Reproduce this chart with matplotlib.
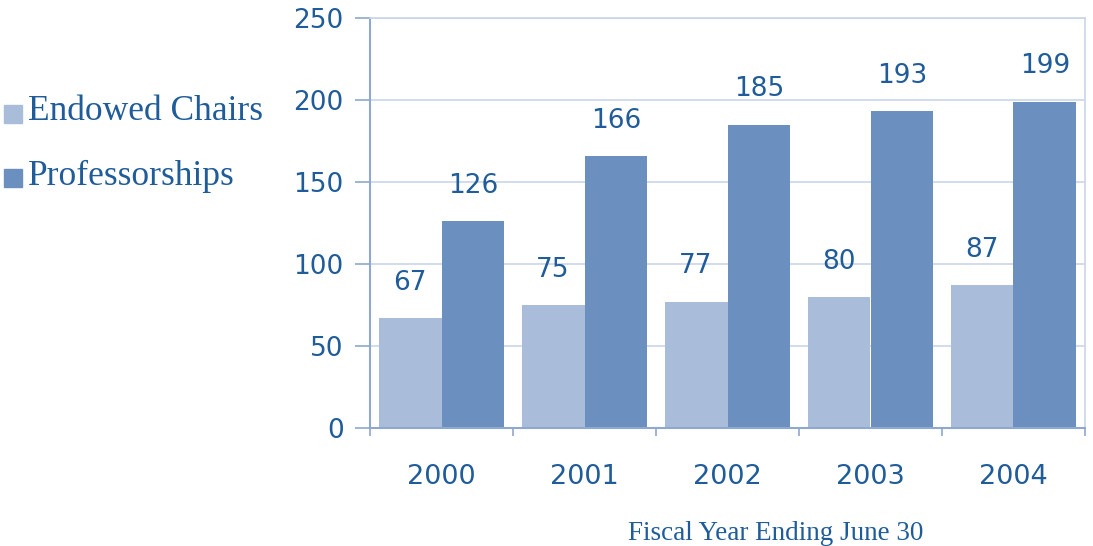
import matplotlib
matplotlib.use("Agg")
import matplotlib.pyplot as plt
import numpy as np

years = ["2000", "2001", "2002", "2003", "2004"]
endowed_chairs = [67, 75, 77, 80, 87]
professorships = [126, 166, 185, 193, 199]
yticks = [0, 50, 100, 150, 200, 250]

text_col = "#1F5C99"
light = "#A9BDDB"
dark = "#6B8FBF"
grid_col = "#C9D6EA"
spine_col = "#8FA8CF"

fig = plt.figure(figsize=(10.93, 5.46), dpi=100)
ax = fig.add_axes([370/1093, 1-428/546, 715/1093, 410/546])

x = np.arange(len(years))
w = 0.44
ax.bar(x - w/2, endowed_chairs, width=w, color=light, zorder=2)
ax.bar(x + w/2, professorships, width=w, color=dark, zorder=2)

for xi, v in zip(x, endowed_chairs):
    ax.text(xi - w/2, v + 21.5, str(v), ha="center", va="center", fontsize=19,
            color=text_col, family="DejaVu Sans")
for xi, v in zip(x, professorships):
    ax.text(xi + w/2, v + 21.5, str(v), ha="center", va="center", fontsize=19,
            color=text_col, family="DejaVu Sans")

ax.set_xlim(-0.5, len(years) - 0.5)
ax.set_ylim(0, 250)
ax.set_yticks(yticks)
ax.set_yticklabels([str(t) for t in yticks], fontsize=19, color=text_col, family="DejaVu Sans")
ax.yaxis.grid(True, color=grid_col, linewidth=1.2, zorder=0)
ax.set_axisbelow(True)

ax.set_xticks(x)
ax.set_xticklabels(years, fontsize=19.5, color=text_col, family="DejaVu Sans")
ax.tick_params(axis="x", length=0, pad=26)
ax.set_xticks(np.arange(-0.5, len(years)), minor=True)
ax.tick_params(axis="x", which="minor", length=6, color=spine_col, width=1.2)
ax.tick_params(axis="y", length=11, color=spine_col, width=1.2, pad=8)

for s in ["left", "bottom"]:
    ax.spines[s].set_color(spine_col)
    ax.spines[s].set_linewidth(1.5)
for s in ["top", "right"]:
    ax.spines[s].set_color(grid_col)
    ax.spines[s].set_linewidth(1.2)

# legend
fig.patches.append(plt.Rectangle((4/1093, 1-123/546), 18/1093, 18/546, color=light, transform=fig.transFigure))
fig.patches.append(plt.Rectangle((4/1093, 1-187/546), 18/1093, 18/546, color=dark, transform=fig.transFigure))
fig.text(28/1093, 1-112/546, "Endowed Chairs", fontsize=25.5, color=text_col, family="Liberation Serif", va="center")
fig.text(28/1093, 1-176/546, "Professorships", fontsize=25.5, color=text_col, family="Liberation Serif", va="center")

fig.text(628/1093, 1-534/546, "Fiscal Year Ending June 30", fontsize=19.5, color=text_col,
         family="Liberation Serif", va="center")

fig.savefig("out.png", dpi=100)
